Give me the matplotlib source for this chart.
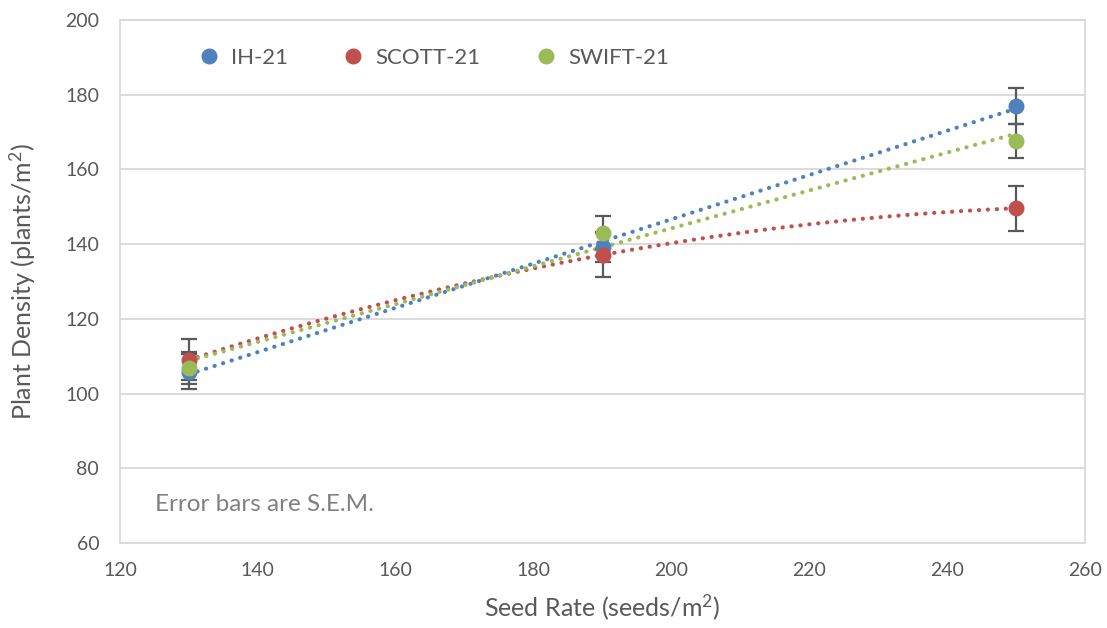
import numpy as np
import matplotlib
matplotlib.use("Agg")
import matplotlib.pyplot as plt

plt.rcParams['font.family'] = ['Lato', 'DejaVu Sans']
plt.rcParams['mathtext.fontset'] = 'custom'
plt.rcParams['mathtext.rm'] = 'Lato'
plt.rcParams['mathtext.it'] = 'Lato'

# seed rates (seeds/m2)
seed_rate = [130, 190, 250]

# plant density means and S.E.M. per variety
ih21 = [105.9, 139.3, 177.0]
ih21_sem = [4.8, 4.0, 4.9]
scott21 = [109.0, 137.1, 149.6]
scott21_sem = [5.5, 6.0, 6.0]
swift21 = [106.8, 143.1, 167.6]
swift21_sem = [4.3, 4.4, 4.5]

series = [
    ("IH-21", ih21, ih21_sem, "#4F81BD", 1),
    ("SCOTT-21", scott21, scott21_sem, "#C0504D", 2),
    ("SWIFT-21", swift21, swift21_sem, "#9BBB59", 1),
]

grey = "#595959"
fig = plt.figure(figsize=(11.07, 6.28), dpi=100)
ax = fig.add_axes([0.1084, 0.1354, 0.8718, 0.8328])

x = np.array(seed_rate, dtype=float)
xs = np.linspace(x.min(), x.max(), 200)

for i, (name, y, sem, col, deg) in enumerate(series):
    # trendline (linear, or 2nd order polynomial for SCOTT-21)
    coef = np.polyfit(x, y, deg)
    ax.plot(xs, np.polyval(coef, xs), color=col, lw=3,
            linestyle=(0, (0.05, 2.1)), dash_capstyle="round", zorder=3 + i)
    ax.errorbar(x, y, yerr=sem, fmt="none", ecolor=grey, elinewidth=1.6,
                capsize=6, capthick=1.6, zorder=6 + i)
    ax.plot(x, y, "o", color=col, markersize=10.5, label=name, zorder=10 + i)

ax.set_xlim(120, 260)
ax.set_ylim(60, 200)
ax.set_xticks(np.arange(120, 261, 20))
ax.set_yticks(np.arange(60, 201, 20))
ax.grid(axis="y", color="#d9d9d9", lw=1.3)
ax.set_axisbelow(True)
for s in ax.spines.values():
    s.set_color("#d9d9d9")
    s.set_linewidth(1.3)
ax.tick_params(length=0, labelsize=14, labelcolor=grey)
ax.tick_params(axis="y", pad=15)
ax.tick_params(axis="x", pad=14)

ax.set_xlabel("Seed Rate (seeds/m$^2$)", fontsize=18, color=grey, labelpad=9)
ax.set_ylabel("Plant Density (plants/m$^2$)", fontsize=18, color=grey)
ax.yaxis.set_label_coords(-0.085, 0.5)

ax.text(0.036, 0.073, "Error bars are S.E.M.", transform=ax.transAxes,
        fontsize=17.5, color="#808080", va="center")

ax.legend(loc="upper left", bbox_to_anchor=(0.048, 0.985), ncol=3, frameon=False,
          fontsize=16, labelcolor=grey, handletextpad=0.0, columnspacing=1.95,
          markerscale=1.0)

fig.savefig("out.png", dpi=100)
